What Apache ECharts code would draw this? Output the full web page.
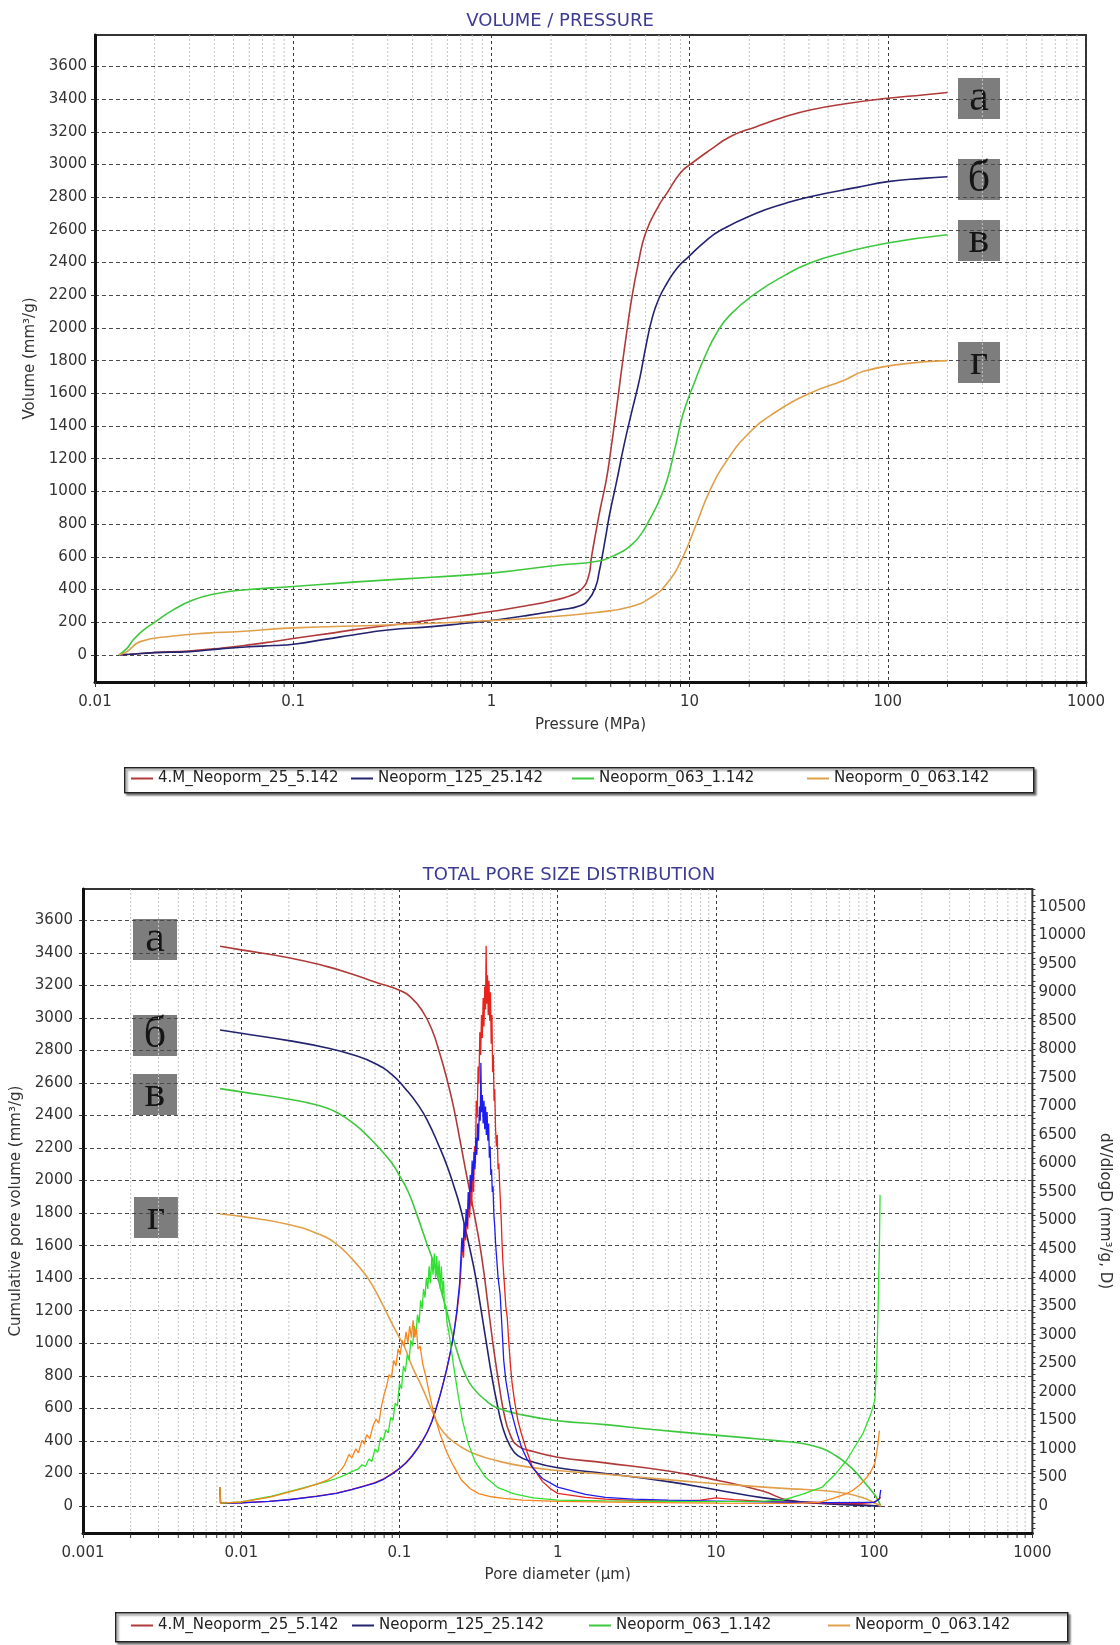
<!DOCTYPE html>
<html>
<head>
<meta charset="utf-8">
<script src="https://cdn.jsdelivr.net/npm/echarts@6/dist/echarts.min.js"></script>
<style>
  html, body { margin: 0; padding: 0; background: #ffffff; }
  #chart { width: 1120px; height: 1645px; }
</style>
</head>
<body>
<div id="chart"></div>
<script>
// ---- sample names (shared by both plots) ----
const sampleNames = ['4.M_Neoporm_25_5.142', 'Neoporm_125_25.142', 'Neoporm_063_1.142', 'Neoporm_0_063.142'];
const panelTags = ['а', 'б', 'в', 'г'];

// ---- tick labels ----
const volumeTicks = [0, 200, 400, 600, 800, 1000, 1200, 1400, 1600, 1800, 2000, 2200, 2400, 2600, 2800, 3000, 3200, 3400, 3600];
const dvTicks = [0, 500, 1000, 1500, 2000, 2500, 3000, 3500, 4000, 4500, 5000, 5500, 6000, 6500, 7000, 7500, 8000, 8500, 9000, 9500, 10000, 10500];

// ---- intrusion volume vs pressure: [pressure MPa, volume mm3/g] ----
const intrusionA = [[0.0132,0],[0.015,4],[0.02,14],[0.03,24],[0.044,42],[0.06,61],[0.08,82],[0.1,100],[0.15,130],[0.2,153],[0.3,180],[0.5,214],[0.7,238],[1,265],[1.5,300],[2,330],[2.5,362],[2.84,400],[3.09,479],[3.2,600],[3.36,745],[3.55,900],[3.8,1070],[4.0,1250],[4.23,1460],[4.4,1620],[4.59,1790],[4.8,1960],[5.09,2171],[5.5,2390],[6.0,2581],[7.0,2750],[7.7,2826],[9,2950],[10.3,3009],[12.7,3089],[16,3170],[21.7,3231],[30,3290],[40.5,3333],[60,3370],[100,3405],[150,3425],[200,3440]];
const intrusionB = [[0.0132,0],[0.015,4],[0.02,14],[0.03,20],[0.044,38],[0.06,50],[0.08,57],[0.1,65],[0.15,98],[0.2,122],[0.3,152],[0.5,173],[0.7,190],[1,210],[1.5,240],[2.22,275],[2.8,300],[3.1,340],[3.36,418],[3.5,510],[3.65,624],[3.8,745],[3.96,868],[4.3,1070],[4.65,1274],[5.09,1480],[5.6,1690],[6.0,1880],[6.5,2069],[7.0,2180],[7.7,2275],[8.7,2370],[9.9,2436],[12,2530],[14.4,2599],[21.7,2701],[30,2760],[40.5,2803],[70,2860],[100,2895],[150,2915],[200,2925]];
const intrusionC = [[0.0132,0],[0.0145,40],[0.0156,92],[0.0175,150],[0.0197,194],[0.0248,275],[0.0312,335],[0.04,372],[0.0557,397],[0.1,418],[0.2,445],[0.5,475],[1,500],[2.22,550],[3.36,571],[4.2,610],[5.09,673],[5.7,740],[6.27,826],[7.0,940],[7.7,1070],[8.5,1280],[9.3,1480],[10.7,1682],[12,1830],[13.7,1969],[16,2080],[21.7,2214],[30,2320],[40.5,2397],[60,2460],[100,2520],[200,2570]];
const intrusionD = [[0.0132,0],[0.0145,20],[0.0169,81],[0.0248,115],[0.0366,133],[0.054,143],[0.1,165],[0.3,183],[1,210],[2.22,238],[3.36,259],[5.09,296],[6.5,357],[7.7,438],[9.1,581],[10.7,785],[12.7,1009],[15.5,1193],[19.9,1356],[26.6,1478],[40.5,1601],[60.7,1682],[75.5,1735],[120,1780],[200,1800]];

// ---- cumulative pore volume vs pore diameter: [diameter um, volume mm3/g] ----
const cumulativeA = [[0.00735,3440],[0.01,3418],[0.02,3370],[0.035,3315],[0.05,3270],[0.07,3220],[0.1,3170],[0.12,3120],[0.14,3040],[0.16,2930],[0.18,2780],[0.2,2620],[0.22,2450],[0.24,2260],[0.26,2080],[0.28,1920],[0.3,1770],[0.32,1620],[0.34,1450],[0.36,1260],[0.38,1080],[0.4,920],[0.43,720],[0.46,560],[0.5,440],[0.56,370],[0.7,335],[1,300],[2,265],[5,215],[10,160],[20,90],[29,35],[50,18],[80,8],[110,0]];
const cumulativeB = [[0.00735,2925],[0.01,2905],[0.02,2860],[0.035,2815],[0.05,2775],[0.07,2720],[0.09,2650],[0.11,2560],[0.13,2470],[0.15,2370],[0.18,2200],[0.2,2090],[0.22,1970],[0.24,1850],[0.26,1710],[0.28,1570],[0.3,1430],[0.32,1270],[0.34,1110],[0.36,960],[0.38,820],[0.41,650],[0.45,480],[0.5,370],[0.56,310],[0.7,270],[1,235],[2,200],[5,150],[10,100],[20,50],[36,23],[60,10],[110,0]];
const cumulativeC = [[0.00735,2565],[0.01,2545],[0.02,2500],[0.0313,2460],[0.04,2420],[0.0522,2345],[0.065,2260],[0.0876,2120],[0.1,2030],[0.113,1936],[0.13,1780],[0.147,1629],[0.16,1530],[0.171,1440],[0.185,1310],[0.2,1190],[0.215,1060],[0.234,934],[0.26,810],[0.29,729],[0.35,650],[0.41,606],[0.6,560],[1,524],[2,500],[4,470],[7.7,445],[15,420],[25,400],[36,383],[47,353],[57,310],[67,261],[77,205],[85,156],[95,100],[103,55],[110,0]];
const cumulativeD = [[0.00735,1795],[0.01,1780],[0.02,1730],[0.031,1670],[0.04,1610],[0.05,1520],[0.06,1430],[0.068,1350],[0.078,1240],[0.088,1138],[0.098,1050],[0.108,974],[0.12,860],[0.139,729],[0.16,590],[0.18,483],[0.21,410],[0.247,361],[0.3,320],[0.41,279],[0.6,245],[1,218],[2,195],[4,170],[7.7,146],[15,125],[30,105],[47,95],[67,77],[85,50],[100,20],[110,0]];

// ---- log differential intrusion: [diameter um, dV/dlogD] ----
const differentialA = [[0.00735,330],[0.0074,55],[0.008,48],[0.01,55],[0.015,80],[0.02,110],[0.03,170],[0.04,225],[0.05,290],[0.06,350],[0.07,410],[0.08,480],[0.09,570],[0.1,660],[0.11,760],[0.12,880],[0.13,1010],[0.14,1150],[0.15,1300],[0.16,1480],[0.17,1700],[0.18,1930],[0.19,2180],[0.2,2430],[0.21,2700],[0.22,3000],[0.23,3350],[0.24,3800],[0.245,4150],[0.25,4600],[0.254,4350],[0.258,4900],[0.262,4650],[0.266,5150],[0.27,4850],[0.274,5400],[0.278,5050],[0.282,5600],[0.286,5250],[0.29,5850],[0.294,5500],[0.298,6300],[0.302,6000],[0.306,7100],[0.31,6800],[0.314,7700],[0.318,7400],[0.322,8300],[0.326,7900],[0.33,8600],[0.334,8200],[0.338,8900],[0.342,8400],[0.346,9100],[0.35,8700],[0.353,9816],[0.356,8800],[0.36,9300],[0.364,8600],[0.368,9200],[0.372,8500],[0.376,9000],[0.38,8100],[0.384,8600],[0.388,7600],[0.392,7900],[0.396,7100],[0.4,7300],[0.405,6600],[0.41,6300],[0.415,6500],[0.42,5900],[0.425,6000],[0.43,5600],[0.435,5300],[0.44,5000],[0.445,4600],[0.45,4300],[0.46,3900],[0.47,3500],[0.48,3300],[0.49,2900],[0.5,2550],[0.515,2150],[0.533,1850],[0.56,1500],[0.59,1260],[0.64,950],[0.69,690],[0.8,430],[0.9,300],[1,220],[1.5,150],[2,120],[3,95],[5,85],[8,100],[10,140],[13,110],[20,80],[30,60],[50,45],[80,40],[100,60],[110,150]];
const differentialB = [[0.00735,300],[0.0074,50],[0.008,45],[0.01,52],[0.015,78],[0.02,108],[0.03,165],[0.04,220],[0.05,285],[0.06,345],[0.07,400],[0.08,470],[0.09,560],[0.1,650],[0.11,750],[0.12,870],[0.13,1000],[0.14,1140],[0.15,1290],[0.16,1470],[0.17,1690],[0.18,1920],[0.19,2170],[0.2,2420],[0.21,2700],[0.22,3000],[0.23,3400],[0.24,3900],[0.244,4300],[0.248,4700],[0.252,4450],[0.256,4950],[0.26,4700],[0.264,5200],[0.268,4900],[0.272,5500],[0.276,5200],[0.28,5800],[0.284,5500],[0.288,6050],[0.292,5700],[0.296,6200],[0.3,5900],[0.304,6450],[0.308,6150],[0.312,6700],[0.316,6400],[0.32,7000],[0.324,6750],[0.327,7763],[0.33,6900],[0.334,7200],[0.338,6700],[0.342,7100],[0.346,6600],[0.35,7000],[0.354,6500],[0.358,6900],[0.362,6400],[0.366,6700],[0.37,6100],[0.374,6300],[0.378,5800],[0.382,5900],[0.386,5500],[0.39,5600],[0.395,5100],[0.4,4900],[0.405,4600],[0.41,4400],[0.42,4000],[0.433,3700],[0.445,3100],[0.456,2550],[0.47,2200],[0.49,1900],[0.506,1680],[0.55,1300],[0.59,1030],[0.64,820],[0.69,680],[0.8,480],[1,330],[1.5,200],[2,150],[3,120],[5,100],[10,85],[20,70],[50,55],[100,60],[108,120],[110,280]];
const differentialC = [[0.00735,320],[0.0074,50],[0.008,52],[0.01,70],[0.015,160],[0.02,250],[0.025,320],[0.03,380],[0.035,430],[0.04,480],[0.045,540],[0.05,600],[0.055,650],[0.058,720],[0.061,690],[0.064,820],[0.067,780],[0.07,1000],[0.073,940],[0.076,1200],[0.079,1150],[0.082,1330],[0.085,1280],[0.088,1550],[0.091,1500],[0.094,1800],[0.097,1750],[0.1,2150],[0.103,2050],[0.106,2450],[0.109,2350],[0.112,2650],[0.115,2550],[0.118,2900],[0.121,2800],[0.124,3150],[0.127,3000],[0.13,3350],[0.133,3200],[0.136,3600],[0.139,3450],[0.142,3800],[0.145,3650],[0.148,4000],[0.151,3800],[0.154,4200],[0.157,3900],[0.16,4350],[0.163,4050],[0.166,4420],[0.169,4000],[0.172,4380],[0.175,3950],[0.178,4300],[0.181,3800],[0.184,4200],[0.187,3700],[0.19,3950],[0.193,3450],[0.196,3500],[0.2,3200],[0.205,3050],[0.21,2850],[0.22,2450],[0.234,1970],[0.25,1500],[0.272,1100],[0.3,780],[0.35,500],[0.42,320],[0.53,210],[0.7,140],[1,100],[2,88],[5,80],[10,75],[20,85],[26.5,100],[35,200],[47,330],[57,560],[67,800],[76,1050],[85,1270],[95,1600],[101,1850],[104,2550],[106,3500],[108,4600],[109,5450]];
const differentialD = [[0.00735,320],[0.0074,50],[0.008,52],[0.01,70],[0.015,150],[0.02,240],[0.025,310],[0.03,380],[0.035,450],[0.04,560],[0.043,640],[0.045,720],[0.048,900],[0.05,840],[0.053,1000],[0.055,930],[0.058,1150],[0.06,1080],[0.062,1250],[0.065,1180],[0.068,1400],[0.071,1520],[0.074,1450],[0.077,1750],[0.08,1950],[0.083,2100],[0.086,2300],[0.089,2250],[0.092,2550],[0.095,2450],[0.098,2750],[0.101,2650],[0.104,2900],[0.107,2800],[0.11,3050],[0.113,2850],[0.116,3150],[0.119,2950],[0.122,3250],[0.125,2950],[0.128,3100],[0.131,2750],[0.135,2800],[0.14,2500],[0.147,2260],[0.155,1950],[0.163,1680],[0.172,1450],[0.18,1270],[0.195,1000],[0.21,800],[0.23,600],[0.247,450],[0.28,300],[0.317,215],[0.38,160],[0.456,130],[0.6,100],[1,80],[3,60],[10,50],[30,45],[45,60],[55,130],[65,200],[73,270],[82,380],[90,505],[96,620],[101,740],[105,1030],[108,1320]];

// ---- styling ----
const FONT = 'DejaVu Sans';
const curveColors = ['#b03a3a', '#23236f', '#3ec83e', '#e0a04a'];
const diffColors = ['#e8231c', '#1c1cf0', '#2fe02f', '#f7861c'];
const titleColor = '#3b3b93';

// intermediate log-axis positions (2..9 within each decade)
function minorLogTicks(fromExp, toExp) {
  const out = [];
  for (let e = fromExp; e < toExp; e++) {
    for (let m = 2; m <= 9; m++) out.push([+(m * Math.pow(10, e)).toPrecision(3), 0]);
  }
  return out;
}
const pressureMinor = minorLogTicks(-2, 3);
const diameterMinor = minorLogTicks(-3, 3);
const dvMinorTicks = [];
for (let v = -400; v <= 10800; v += 100) dvMinorTicks.push(v);

const plainNumber = v => String(+Number(v).toPrecision(6));

function logAxis(gridIndex, min, max, name, nameGap, labelMargin) {
  return {
    type: 'log', logBase: 10, gridIndex, min, max, splitNumber: 6,
    name, nameLocation: 'middle', nameGap,
    nameTextStyle: { fontFamily: FONT, fontSize: 15, color: '#333' },
    axisLine: { onZero: false, lineStyle: { color: '#111', width: 3 } },
    axisTick: { show: true, inside: false, length: 5, lineStyle: { color: '#333', width: 1 } },
    axisLabel: { fontFamily: FONT, fontSize: 15, color: '#333', margin: labelMargin,
                 showMinLabel: true, showMaxLabel: true, formatter: plainNumber },
    splitLine: { show: true, lineStyle: { color: '#3a3a3a', width: 1, type: [3, 3] } },
    minorTick: { show: false }, minorSplitLine: { show: false }
  };
}

function volumeAxis(gridIndex, name, nameGap, labelMargin) {
  return {
    type: 'value', gridIndex, position: 'left', min: -166, max: 3792,
    name, nameLocation: 'middle', nameGap,
    nameTextStyle: { fontFamily: FONT, fontSize: 15, color: '#333' },
    axisLine: { show: true, onZero: false, lineStyle: { color: '#111', width: 3 } },
    axisTick: { show: true, length: 4, customValues: volumeTicks, lineStyle: { color: '#333' } },
    axisLabel: { fontFamily: FONT, fontSize: 15, color: '#333', margin: labelMargin,
                 customValues: volumeTicks, formatter: plainNumber },
    splitLine: { show: true, lineStyle: { color: '#4a4a4a', width: 1, type: [4, 3] } }
  };
}

// light dashed lines and small ticks at the intermediate log positions
function minorGridItem(params, api) {
  const cs = params.coordSys;
  const x = api.coord([api.value(0), 0])[0];
  return {
    type: 'group',
    children: [
      { type: 'line', shape: { x1: x, y1: cs.y, x2: x, y2: cs.y + cs.height },
        style: { stroke: '#c4c4c4', lineWidth: 1, lineDash: [2, 2] } },
      { type: 'line', shape: { x1: x, y1: cs.y + cs.height + 1.5, x2: x, y2: cs.y + cs.height + 5 },
        style: { stroke: '#333', lineWidth: 1 } }
    ]
  };
}

function tagBox(letter, left, top, width) {
  return {
    type: 'group', left, top,
    children: [
      { type: 'rect', shape: { x: 0, y: 0, width, height: 41 }, style: { fill: '#7d7d7d' } },
      { type: 'text', x: width / 2, y: 20,
        style: { text: letter, fill: '#151515', fontFamily: 'Liberation Serif', fontSize: 44,
                 align: 'center', verticalAlign: 'middle' } }
    ]
  };
}

// framed box behind a row of legend entries
function legendFrame(left, top, width, height) {
  return {
    type: 'rect', left, top, z: 0,
    shape: { x: 0, y: 0, width, height },
    style: { fill: '#fff', stroke: '#222', lineWidth: 1.5,
             shadowColor: 'rgba(0,0,0,0.45)', shadowBlur: 2, shadowOffsetX: 2, shadowOffsetY: 2 }
  };
}

// one legend entry per component so each entry starts at its own column
function legendEntries(top, lefts) {
  return sampleNames.map((name, i) => ({
    top, left: lefts[i], orient: 'horizontal', selectedMode: false, z: 5,
    icon: 'rect', itemWidth: 22, itemHeight: 2, itemGap: 0, padding: 0,
    textStyle: { fontFamily: FONT, fontSize: 15, color: '#222' },
    data: [name]
  }));
}

const intrusionSets = [intrusionA, intrusionB, intrusionC, intrusionD];
const cumulativeSets = [cumulativeA, cumulativeB, cumulativeC, cumulativeD];
const differentialSets = [differentialA, differentialB, differentialC, differentialD];

const series = [];
series.push({ type: 'custom', xAxisIndex: 0, yAxisIndex: 0, data: pressureMinor, renderItem: minorGridItem,
              clip: false, silent: true, z: 1, encode: { x: 0, y: 1 } });
series.push({ type: 'custom', xAxisIndex: 1, yAxisIndex: 1, data: diameterMinor, renderItem: minorGridItem,
              clip: false, silent: true, z: 1, encode: { x: 0, y: 1 } });

sampleNames.forEach((name, i) => {
  series.push({
    name, type: 'line', xAxisIndex: 0, yAxisIndex: 0, data: intrusionSets[i],
    symbol: 'none', smooth: 0.5, color: curveColors[i],
    lineStyle: { width: 1.6, color: curveColors[i] }, z: 3
  });
});
sampleNames.forEach((name, i) => {
  series.push({
    name, type: 'line', xAxisIndex: 1, yAxisIndex: 1, data: cumulativeSets[i],
    symbol: 'none', smooth: 0.5, color: curveColors[i],
    lineStyle: { width: 1.6, color: curveColors[i] }, z: 3
  });
});
sampleNames.forEach((name, i) => {
  series.push({
    name, type: 'line', xAxisIndex: 1, yAxisIndex: 2, data: differentialSets[i],
    symbol: 'none', color: diffColors[i],
    lineStyle: { width: 1.3, color: diffColors[i] }, z: 4
  });
});

const option = {
  backgroundColor: '#ffffff',
  animation: false,
  title: [
    { text: 'VOLUME / PRESSURE', left: 555, top: 7, textAlign: 'center',
      textStyle: { fontFamily: FONT, fontSize: 18, fontWeight: 'normal', color: titleColor } },
    { text: 'TOTAL PORE SIZE DISTRIBUTION', left: 564, top: 861, textAlign: 'center',
      textStyle: { fontFamily: FONT, fontSize: 18, fontWeight: 'normal', color: titleColor } }
  ],
  grid: [
    { left: 95, top: 35, width: 991, height: 647, show: true, borderColor: '#333', borderWidth: 2, backgroundColor: '#fff' },
    { left: 83, top: 889, width: 957, height: 644, show: true, borderColor: '#333', borderWidth: 2, backgroundColor: '#fff' }
  ],
  xAxis: [
    logAxis(0, 0.01, 1000, 'Pressure (MPa)', 36, 13),
    logAxis(1, 0.001, 1000, 'Pore diameter (µm)', 35, 13)
  ],
  yAxis: [
    volumeAxis(0, 'Volume (mm³/g)', 54, 8),
    volumeAxis(1, 'Cumulative pore volume (mm³/g)', 56, 10),
    {
      type: 'value', gridIndex: 1, position: 'right', min: -475, max: 10810,
      name: 'dV/dlogD (mm³/g, D)', nameLocation: 'middle', nameGap: 58, nameRotate: -90,
      nameTextStyle: { fontFamily: FONT, fontSize: 15, color: '#333' },
      axisLine: { show: true, onZero: false, lineStyle: { color: '#333', width: 1 } },
      axisTick: { show: true, length: 3, customValues: dvMinorTicks, lineStyle: { color: '#333' } },
      axisLabel: { fontFamily: FONT, fontSize: 15, color: '#333', margin: 6,
                   customValues: dvTicks, formatter: plainNumber },
      splitLine: { show: false }
    }
  ],
  legend: [
    ...legendEntries(771, [131, 351, 572, 807]),
    ...legendEntries(1618, [131, 352, 589, 828])
  ],
  graphic: [
    legendFrame(124, 767, 909, 25),
    legendFrame(115, 1612, 952, 29),
    tagBox(panelTags[0], 958, 76, 42),
    tagBox(panelTags[1], 958, 157, 42),
    tagBox(panelTags[2], 958, 218, 42),
    tagBox(panelTags[3], 958, 340, 42),
    tagBox(panelTags[0], 133, 917, 44),
    tagBox(panelTags[1], 133, 1013, 44),
    tagBox(panelTags[2], 133, 1072, 44),
    tagBox(panelTags[3], 134, 1195, 44)
  ],
  series
};

const chart = echarts.init(document.getElementById('chart'), null, { renderer: 'canvas' });
chart.setOption(option);
</script>
</body>
</html>
